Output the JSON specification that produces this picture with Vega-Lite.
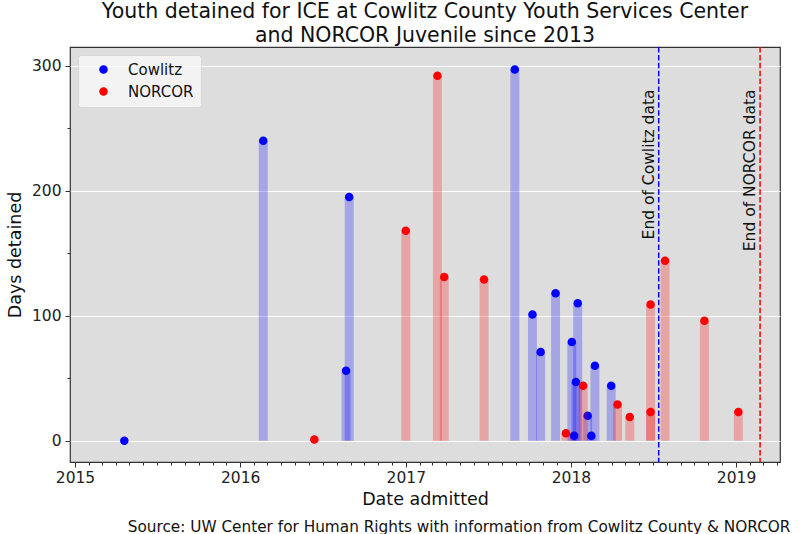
{
  "$schema": "https://vega.github.io/schema/vega-lite/v6.json",
  "width": 710,
  "height": 415,
  "autosize": {"type": "none"},
  "padding": {"left": 70, "top": 47, "right": 20, "bottom": 72},
  "background": "#ffffff",
  "title": {
    "text": ["Youth detained for ICE at Cowlitz County Youth Services Center", "and NORCOR Juvenile since 2013"],
    "font": "DejaVu Sans",
    "fontSize": 20.5,
    "fontWeight": "normal",
    "color": "#111111",
    "lineHeight": 24,
    "anchor": "middle",
    "frame": "group",
    "offset": 0
  },
  "datasets": {
    "stays": [
      {"facility": "Cowlitz", "date": "2015-04-20", "days": 0},
      {"facility": "Cowlitz", "date": "2016-02-21", "days": 240},
      {"facility": "Cowlitz", "date": "2016-08-22", "days": 56},
      {"facility": "Cowlitz", "date": "2016-08-29", "days": 195},
      {"facility": "Cowlitz", "date": "2017-08-30", "days": 297},
      {"facility": "Cowlitz", "date": "2017-10-08", "days": 101},
      {"facility": "Cowlitz", "date": "2017-10-26", "days": 71},
      {"facility": "Cowlitz", "date": "2017-11-28", "days": 118},
      {"facility": "Cowlitz", "date": "2018-01-03", "days": 79},
      {"facility": "Cowlitz", "date": "2018-01-08", "days": 4},
      {"facility": "Cowlitz", "date": "2018-01-12", "days": 47},
      {"facility": "Cowlitz", "date": "2018-01-16", "days": 110},
      {"facility": "Cowlitz", "date": "2018-02-07", "days": 20},
      {"facility": "Cowlitz", "date": "2018-02-15", "days": 4},
      {"facility": "Cowlitz", "date": "2018-02-23", "days": 60},
      {"facility": "Cowlitz", "date": "2018-03-31", "days": 44},
      {"facility": "NORCOR", "date": "2016-06-13", "days": 1},
      {"facility": "NORCOR", "date": "2017-01-01", "days": 168},
      {"facility": "NORCOR", "date": "2017-03-12", "days": 292},
      {"facility": "NORCOR", "date": "2017-03-27", "days": 131},
      {"facility": "NORCOR", "date": "2017-06-23", "days": 129},
      {"facility": "NORCOR", "date": "2017-12-21", "days": 6},
      {"facility": "NORCOR", "date": "2018-01-28", "days": 44},
      {"facility": "NORCOR", "date": "2018-04-14", "days": 29},
      {"facility": "NORCOR", "date": "2018-05-11", "days": 19},
      {"facility": "NORCOR", "date": "2018-06-26", "days": 109},
      {"facility": "NORCOR", "date": "2018-06-26", "days": 23},
      {"facility": "NORCOR", "date": "2018-07-28", "days": 144},
      {"facility": "NORCOR", "date": "2018-10-23", "days": 96},
      {"facility": "NORCOR", "date": "2019-01-06", "days": 23}
    ],
    "ends": [
      {"facility": "Cowlitz", "date": "2018-07-14", "label": "End of Cowlitz data"},
      {"facility": "NORCOR", "date": "2019-02-23", "label": "End of NORCOR data"}
    ]
  },
  "resolve": {"axis": {"x": "independent"}},
  "layer": [
    {
      "data": {"name": "stays"},
      "transform": [{"filter": "datum.facility === 'Cowlitz'"}],
      "mark": {"type": "bar", "size": 9, "color": "#0000ff", "opacity": 0.25},
      "encoding": {
        "x": {
          "field": "date", "type": "temporal",
          "scale": {"type": "utc", "domain": [{"year": 2015, "month": 1, "date": 1, "utc": true}, {"year": 2019, "month": 3, "date": 28, "utc": true}]},
          "axis": {
            "orient": "bottom",
            "title": "Date admitted",
            "tickCount": {"interval": "month", "step": 1},
            "labelExpr": "utcmonth(datum.value) == 0 ? utcFormat(datum.value, '%Y') : ''",
            "labelOverlap": false,
            "labelFlush": false,
            "tickSize": {"condition": {"test": "utcmonth(datum.value) == 0", "value": 5}, "value": 3},
            "grid": false,
            "domain": false,
            "tickColor": "#333333",
            "labelFont": "DejaVu Sans",
            "labelFontSize": 15.5,
            "labelColor": "#222222",
            "labelPadding": 3,
            "titleFont": "DejaVu Sans",
            "titleFontSize": 17.5,
            "titleFontWeight": "normal",
            "titleColor": "#111111",
            "titlePadding": 5
          }
        },
        "y": {
          "field": "days", "type": "quantitative", "stack": null,
          "scale": {"domain": [-17, 315], "nice": false, "zero": false},
          "axis": {
            "title": "Days detained",
            "values": [0, 25, 50, 75, 100, 125, 150, 175, 200, 225, 250, 275, 300],
            "labelExpr": "datum.value % 100 == 0 ? datum.label : ''",
            "tickSize": {"condition": {"test": "datum.value % 100 == 0", "value": 5}, "value": 3},
            "gridOpacity": {"condition": {"test": "datum.value % 100 == 0", "value": 1}, "value": 0},
            "grid": true,
            "gridColor": "#ffffff",
            "gridWidth": 1,
            "domain": false,
            "tickColor": "#333333",
            "labelFont": "DejaVu Sans",
            "labelFontSize": 15.5,
            "labelColor": "#222222",
            "labelPadding": 4,
            "titleFont": "DejaVu Sans",
            "titleFontSize": 17.5,
            "titleFontWeight": "normal",
            "titleColor": "#111111",
            "titlePadding": 7
          }
        }
      }
    },
    {
      "data": {"name": "stays"},
      "transform": [{"filter": "datum.facility === 'Cowlitz'"}],
      "mark": {"type": "point", "filled": true, "shape": "circle", "size": 72, "opacity": 1},
      "encoding": {
        "x": {"field": "date", "type": "temporal", "axis": null},
        "y": {"field": "days", "type": "quantitative", "stack": null},
        "color": {
          "field": "facility", "type": "nominal",
          "scale": {"domain": ["Cowlitz", "NORCOR"], "range": ["#0000ff", "#ff0000"]},
          "legend": {
            "title": null, "orient": "top-left", "offset": 8,
            "fillColor": "rgba(255,255,255,0.65)", "strokeColor": "#d8d8d8", "cornerRadius": 3,
            "padding": 7, "symbolOffset": 11, "labelOffset": 17,
            "labelFont": "DejaVu Sans", "labelFontSize": 15, "labelColor": "#111111",
            "rowPadding": 6, "symbolSize": 72, "symbolType": "circle", "symbolStrokeWidth": 0
          }
        }
      }
    },
    {
      "data": {"name": "stays"},
      "transform": [{"filter": "datum.facility === 'NORCOR'"}],
      "mark": {"type": "bar", "size": 9, "color": "#ff0000", "opacity": 0.25},
      "encoding": {
        "x": {"field": "date", "type": "temporal", "axis": null},
        "y": {"field": "days", "type": "quantitative", "stack": null}
      }
    },
    {
      "data": {"name": "stays"},
      "transform": [{"filter": "datum.facility === 'NORCOR'"}],
      "mark": {"type": "point", "filled": true, "shape": "circle", "size": 72, "opacity": 1},
      "encoding": {
        "x": {"field": "date", "type": "temporal", "axis": null},
        "y": {"field": "days", "type": "quantitative", "stack": null},
        "color": {
          "field": "facility", "type": "nominal",
          "scale": {"domain": ["Cowlitz", "NORCOR"], "range": ["#0000ff", "#ff0000"]},
          "legend": {
            "title": null, "orient": "top-left", "offset": 8,
            "fillColor": "rgba(255,255,255,0.65)", "strokeColor": "#d8d8d8", "cornerRadius": 3,
            "padding": 7, "symbolOffset": 11, "labelOffset": 17,
            "labelFont": "DejaVu Sans", "labelFontSize": 15, "labelColor": "#111111",
            "rowPadding": 6, "symbolSize": 72, "symbolType": "circle", "symbolStrokeWidth": 0
          }
        }
      }
    },
    {
      "data": {"name": "ends"},
      "mark": {"type": "rule", "strokeDash": [5.5, 2.4], "strokeWidth": 1.5},
      "encoding": {
        "x": {"field": "date", "type": "temporal", "axis": null},
        "stroke": {"field": "facility", "type": "nominal", "scale": {"domain": ["Cowlitz", "NORCOR"], "range": ["#0000ff", "#ff0000"]}, "legend": null}
      }
    },
    {
      "data": {"name": "ends"},
      "mark": {"type": "text", "angle": 270, "align": "right", "baseline": "bottom", "dy": -2, "font": "DejaVu Sans", "fontSize": 15.5, "color": "#111111"},
      "encoding": {
        "x": {
          "field": "date", "type": "temporal",
          "axis": {
            "orient": "bottom",
            "title": "Source: UW Center for Human Rights with information from Cowlitz County & NORCOR",
            "labels": false,
            "ticks": false,
            "domain": false,
            "grid": false,
            "titleX": 720,
            "titleY": 69,
            "titleAlign": "right",
            "titleBaseline": "alphabetic",
            "titleFont": "DejaVu Sans",
            "titleFontSize": 15.3,
            "titleFontWeight": "normal",
            "titleColor": "#111111"
          }
        },
        "y": {"datum": 281, "type": "quantitative"},
        "text": {"field": "label"}
      }
    }
  ],
  "config": {
    "font": "DejaVu Sans",
    "view": {"fill": "#dddddd", "stroke": "#333333", "strokeWidth": 1.2}
  }
}
